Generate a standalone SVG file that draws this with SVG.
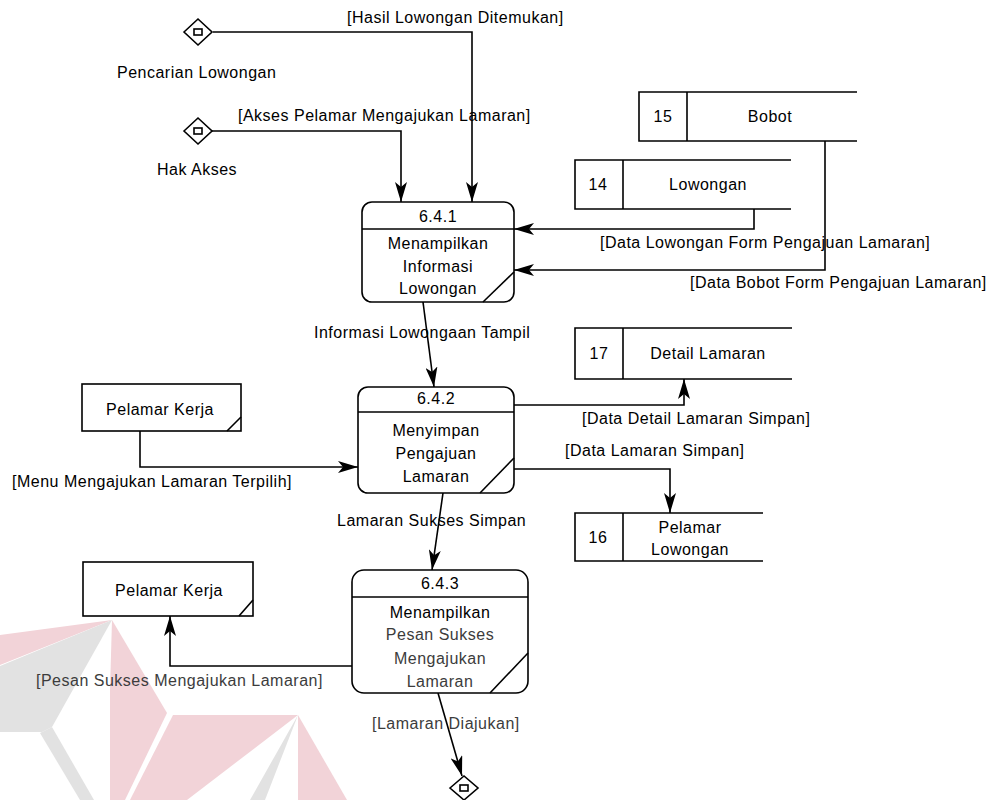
<svg xmlns="http://www.w3.org/2000/svg" width="992" height="800" viewBox="0 0 992 800">
<defs>
<style>
text{font-family:"Liberation Sans",Arial,sans-serif;font-size:16px;letter-spacing:0.5px;fill:#000}
.c{text-anchor:middle}
.g{fill:#3c3c3c}
.box{fill:#fff;stroke:#000;stroke-width:1.6}
.ln{fill:none;stroke:#000;stroke-width:1.6}
.conn{fill:none;stroke:#000;stroke-width:1.6;marker-end:url(#ah)}
.wp{fill:#f2d3d8}
.wg{fill:#e2e2e2}
</style>
<marker id="ah" viewBox="0 0 20 12" refX="20" refY="6" markerWidth="20" markerHeight="12" markerUnits="userSpaceOnUse" orient="auto">
<path d="M0,0 L20,6 L0,12 L5,6 Z" fill="#000"/>
</marker>
</defs>
<rect width="992" height="800" fill="#fff"/>
<g id="watermark">
<polygon class="wp" points="0,635 112,620 0,665"/>
<polygon class="wg" points="112,620 0,666 0,732 42,732 52,727"/>
<polygon class="wg" points="40,733 52,727 94,800 80,800"/>
<polygon class="wp" points="112,620 167,713 125,800 110,800 110,690"/>
<polygon class="wp" points="173,715 298,715 187,800 130,800"/>
<polygon class="wg" points="298,715 250,800 265,800"/>
<polygon class="wp" points="298,715 347,800 298,800"/>
</g>
<g id="connectors">
<path class="conn" d="M213,32 H472 V202"/>
<path class="conn" d="M212,131 H401 V202"/>
<path class="conn" d="M754,209 V229 H514"/>
<path class="conn" d="M825,141 V270 H514"/>
<path class="conn" d="M423,302 L434,387"/>
<path class="conn" d="M140,431 V467 H358"/>
<path class="conn" d="M514,405 H684 V379"/>
<path class="conn" d="M514,469 H670 V513"/>
<path class="conn" d="M443,493 L432,570"/>
<path class="conn" d="M352,666 H170 V616"/>
<path class="conn" d="M438,693 L462,776"/>
<text x="347" y="23">[Hasil Lowongan Ditemukan]</text>
<text x="238" y="121">[Akses Pelamar Mengajukan Lamaran]</text>
<text x="600" y="248">[Data Lowongan Form Pengajuan Lamaran]</text>
<text x="690" y="288">[Data Bobot Form Pengajuan Lamaran]</text>
<text x="314" y="338">Informasi Lowongaan Tampil</text>
<text x="12" y="487">[Menu Mengajukan Lamaran Terpilih]</text>
<text x="582" y="424">[Data Detail Lamaran Simpan]</text>
<text x="565" y="456">[Data Lamaran Simpan]</text>
<text x="337" y="526">Lamaran Sukses Simpan</text>
<text x="36" y="686" class="g">[Pesan Sukses Mengajukan Lamaran]</text>
<text x="372" y="729" class="g">[Lamaran Diajukan]</text>
</g>
<g id="pencarian-lowongan">
<polygon class="box" points="184,32 198,19 212,32 198,45"/>
<rect class="ln" x="194" y="29" width="8" height="6"/>
<text x="117" y="78">Pencarian Lowongan</text>
</g>
<g id="hak-akses">
<polygon class="box" points="184,131 198,118 212,131 198,144"/>
<rect class="ln" x="194" y="128" width="8" height="6"/>
<text x="157" y="175">Hak Akses</text>
</g>
<g id="p641">
<rect class="box" x="362" y="202" width="152" height="100" rx="10"/>
<line class="ln" x1="362" y1="229" x2="514" y2="229"/>
<line class="ln" x1="514" y1="272" x2="483" y2="302"/>
<text class="c" x="438" y="222">6.4.1</text>
<text class="c" x="438" y="249">Menampilkan</text>
<text class="c" x="438" y="272">Informasi</text>
<text class="c" x="438" y="294">Lowongan</text>
</g>
<g id="ds15">
<path class="ln" d="M857,92 H639 V141 H857 M687,92 V141"/>
<text class="c" x="663" y="122">15</text>
<text class="c" x="770" y="122">Bobot</text>
</g>
<g id="ds14">
<path class="ln" d="M791,160 H575 V209 H791 M623,160 V209"/>
<text class="c" x="598" y="190">14</text>
<text class="c" x="708" y="190">Lowongan</text>
</g>
<g id="ds17">
<path class="ln" d="M792,328 H575 V379 H792 M623,328 V379"/>
<text class="c" x="599" y="359">17</text>
<text class="c" x="708" y="359">Detail Lamaran</text>
</g>
<g id="ds16">
<path class="ln" d="M763,513 H575 V561 H763 M623,513 V561"/>
<text class="c" x="598" y="543">16</text>
<text class="c" x="690" y="533">Pelamar</text>
<text class="c" x="690" y="555">Lowongan</text>
</g>
<g id="pelamar-kerja-1">
<rect class="box" x="82" y="384" width="159" height="47"/>
<line class="ln" x1="241" y1="417" x2="227" y2="431"/>
<text class="c" x="160" y="415">Pelamar Kerja</text>
</g>
<g id="p642">
<rect class="box" x="358" y="387" width="156" height="106" rx="10"/>
<line class="ln" x1="358" y1="412" x2="514" y2="412"/>
<line class="ln" x1="514" y1="458" x2="480" y2="493"/>
<text class="c" x="436" y="404">6.4.2</text>
<text class="c" x="436" y="436">Menyimpan</text>
<text class="c" x="436" y="459">Pengajuan</text>
<text class="c" x="436" y="482">Lamaran</text>
</g>
<g id="pelamar-kerja-2">
<rect class="box" x="83" y="562" width="170" height="54"/>
<line class="ln" x1="253" y1="600" x2="239" y2="616"/>
<text class="c" x="169" y="596">Pelamar Kerja</text>
</g>
<g id="p643">
<rect class="box" x="352" y="570" width="176" height="123" rx="12"/>
<line class="ln" x1="352" y1="597" x2="528" y2="597"/>
<line class="ln" x1="528" y1="653" x2="490" y2="693"/>
<text class="c" x="440" y="589">6.4.3</text>
<text class="c" x="440" y="618">Menampilkan</text>
<text class="c g" x="440" y="640">Pesan Sukses</text>
<text class="c g" x="440" y="664">Mengajukan</text>
<text class="c g" x="440" y="687">Lamaran</text>
</g>
<g id="end-diamond">
<polygon class="box" points="450,788 464,776 478,788 464,800"/>
<rect class="ln" x="460" y="785" width="8" height="6"/>
</g>
</svg>
